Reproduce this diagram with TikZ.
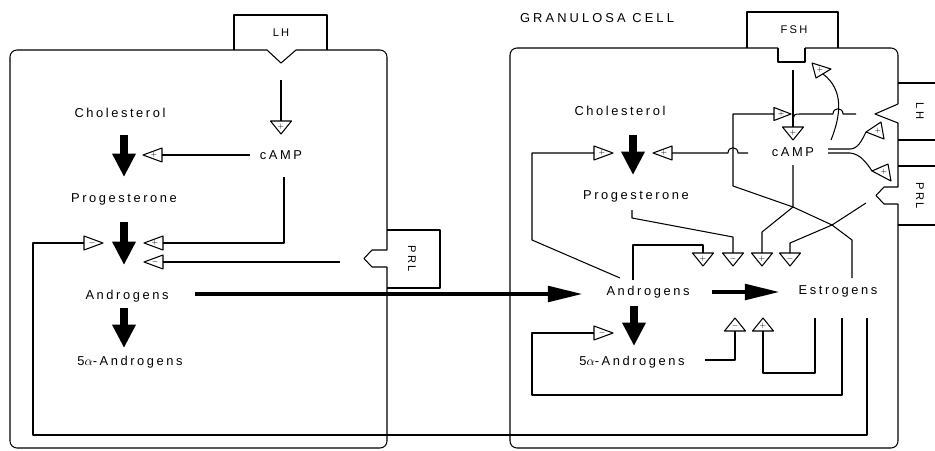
\documentclass[tikz,border=0pt]{standalone}
\usepackage{fontspec}
\setmainfont{Liberation Sans}[LetterSpace=20]
\newfontfamily\widefont{Liberation Sans}[LetterSpace=24]
\usetikzlibrary{arrows.meta}
\tikzset{
 thinln/.style={line width=0.9pt, line join=round},
 lbl/.style={font=\fontsize{11}{13}\selectfont, inner sep=0pt},
 hlbl/.style={font=\fontsize{9.5}{11}\selectfont, inner sep=0pt},
 sig/.style={font=\fontsize{6.5}{7}\selectfont, inner sep=0pt},
 bigarr/.style={line width=6pt, -{Triangle[length=20pt,width=19pt]}},
 longarr/.style={line width=4pt, -{Triangle[length=30pt,width=13pt]}},
}
% L W name x y angle sign
\newcommand\sgnbase[7]{%
 \begin{scope}[shift={(#4,#5)},rotate=#6]
  \draw[thinln] (0,0) coordinate (#3) -- (-#1,-#2/2) -- (-#1,#2/2) -- cycle;
  \coordinate (#3b) at (-#1,0);
  \node[sig] (#3s) at (-#1*0.58,0) {#7};
 \end{scope}}
\newcommand\sgnH[5]{\sgnbase{19}{14}{#1}{#2}{#3}{#4}{#5}}
\newcommand\sgnV[5]{\sgnbase{13}{21}{#1}{#2}{#3}{#4}{#5}}
\begin{document}
\begin{tikzpicture}[x=0.03cm,y=-0.03cm]
\useasboundingbox (0,0) rectangle (935,450);

% ---------------- left (theca) cell ----------------
\draw[thinln, rounded corners=6pt] (267,50) -- (10,50) -- (10,448) -- (387,448) -- (387,267);
\draw[thinln] (387,267) -- (372,267) -- (364,258.5) -- (372,250) -- (387,250);
\draw[thinln, rounded corners=6pt] (387,250) -- (387,50) -- (296,50);
\draw[thinln] (296,50) -- (281,63) -- (267,50);
\draw[thinln] (234,50) -- (234,15) -- (327,15) -- (327,50);
\node[hlbl] (lhL) at (281,33) {LH};
\draw[thinln] (387,230) -- (440,230) -- (440,288) -- (387,288);
\node[hlbl, rotate=-90] (prlL) at (412,259) {PRL};

\node[lbl] (cholL) at (120,113) {Cholesterol};
\node[lbl] (campL) at (281,155) {cAMP};
\node[lbl] (progL) at (124,199) {Progesterone};
\node[lbl] (andL) at (127,296) {Androgens};
\node[lbl] (aaL) at (130,362) {5$\alpha$-Androgens};

\coordinate (a1s) at (124,135); \coordinate (a1e) at (124,177);
\coordinate (a2s) at (124,222); \coordinate (a2e) at (124,265);
\coordinate (a3s) at (124,308); \coordinate (a3e) at (124,348);
\draw[bigarr] (a1s) -- (a1e);
\draw[bigarr] (a2s) -- (a2e);
\draw[bigarr] (a3s) -- (a3e);

\sgnV{tLH}{281}{134}{-90}{$+$}
\coordinate (lhLin) at (281,80);
\draw[thinln] (lhLin) -- (tLHb);
\sgnH{tC1}{143}{155}{180}{$+$}
\coordinate (campLw) at (250,155);
\draw[thinln] (campLw) -- (tC1b);
\sgnH{tC2}{144}{243}{180}{$+$}
\coordinate (campLs) at (284,177);
\draw[thinln] (campLs) |- (tC2b);
\sgnH{tP}{144}{262}{180}{$-$}
\coordinate (prlLin) at (340,262);
\draw[thinln] (prlLin) -- (tPb);
\sgnH{tE1}{103}{243}{0}{$-$}

% long androgen arrow
\coordinate (andLe) at (195,294); \coordinate (andRw) at (583,294);
\draw[longarr] (andLe) -- (andRw);

% ---------------- right (granulosa) cell ----------------
\node[lbl, font=\widefont\fontsize{11}{13}\selectfont] (gran) at (597,18) {GRANULOSA CELL};
\draw[thinln, rounded corners=6pt] (778,48) -- (510,48) -- (510,448) -- (898,448) -- (898,204);
\draw[thinln] (898,204) -- (884,204) -- (876,195.5) -- (884,187) -- (898,187);
\draw[thinln] (898,187) -- (898,123) -- (875,114) -- (898,104);
\draw[thinln, rounded corners=6pt] (898,104) -- (898,48) -- (805,48);
\draw[thinln] (805,48) -- (805,62) -- (778,62) -- (778,48);
\draw[thinln] (747,48) -- (747,12) -- (838,12) -- (838,48);
\node[hlbl] (fsh) at (794,30) {FSH};
\draw[thinln] (898,83) -- (935,83);
\draw[thinln] (898,140) -- (935,140);
\node[hlbl, rotate=-90] (lhR) at (920,111) {LH};
\draw[thinln] (898,166) -- (935,166);
\draw[thinln] (898,225) -- (935,225);
\node[hlbl, rotate=-90] (prlR) at (920,196) {PRL};

\node[lbl] (cholR) at (620,111) {Cholesterol};
\node[lbl] (campR) at (793,152) {cAMP};
\node[lbl] (progR) at (636,196) {Progesterone};
\node[lbl] (andR) at (648,292) {Androgens};
\node[lbl] (estR) at (838,291) {Estrogens};
\node[lbl] (aaR) at (632,362) {5$\alpha$-Androgens};

\coordinate (b1s) at (633,135); \coordinate (b1e) at (633,175);
\coordinate (b2s) at (634,306); \coordinate (b2e) at (634,346);
\draw[bigarr] (b1s) -- (b1e);
\draw[bigarr] (b2s) -- (b2e);
\coordinate (b3s) at (712,292); \coordinate (b3e) at (780,292);
\draw[longarr] (b3s) -- (b3e);

% androgens -> (+) cholesterol step
\sgnH{tR1}{613}{153}{0}{$+$}
\coordinate (andRnw) at (620,278);
\draw[thinln] (andRnw) -- (532,240) -- (532,153) -- (tR1b);
% cAMP -> (+) cholesterol step
\sgnH{tR2}{653}{153}{180}{$+$}
\coordinate (campRw) at (748,153);
\draw[thinln] (campRw) -- (738,153) .. controls (738,146) and (728,146) .. (728,153) -- (tR2b);
% FSH
\sgnV{tF}{793}{140}{-90}{$+$}
\coordinate (fshIn) at (793,70);
\draw[thinln] (fshIn) -- (tFb);
% LH receptor line
\coordinate (lhRin) at (856,114);
\draw[thinln] (lhRin) -- (843,114) .. controls (843,107) and (833,107) .. (833,114) -- (800,114) .. controls (794,114) .. (793,121);
\sgnbase{17}{13}{tX}{791}{114}{0}{$+$}

% junctions
\coordinate (J1) at (793,207);
\coordinate (J2) at (832,225);
\coordinate (estRn) at (852,278);
\draw[thinln] (estRn) -- (852,240) -- (J2) -- (J1) -- (733,186) -- (733,114) -- (tXb);

\sgnV{tB4}{703}{266}{-90}{$+$}
\sgnV{tB3}{733}{266}{-90}{$-$}
\sgnV{tB1}{762}{266}{-90}{$+$}
\sgnV{tB2}{790}{266}{-90}{$-$}
\coordinate (campRs) at (793,165);
\draw[thinln] (campRs) -- (J1) -- (762,232) -- (tB1b);
\coordinate (prlRin) at (866,203);
\draw[thinln] (prlRin) -- (J2) -- (790,243) -- (tB2b);
\coordinate (progRs) at (632,210);
\draw[thinln] (progRs) -- (632,218) -- (733,237) -- (tB3b);
\coordinate (andRn) at (633,280);
\draw[thinln] (andRn) -- (633,245) -- (703,245) -- (tB4b);

% cAMP curved actions
\coordinate (campRne) at (831,140);
\draw[thinln] (campRne) .. controls (841,115) and (844,90) .. (823,74);
\draw[thinln] (812,63) -- (831,69) -- (816,78) -- cycle;
\node[sig] (tTs) at (820,70) {$+$};
\coordinate (campRe1) at (828,149); \coordinate (campRe2) at (828,153);
\draw[thinln] (campRe1) -- (850,149) .. controls (858,149) and (862,140) .. (866,132);
\draw[thinln] (campRe2) -- (850,153) .. controls (860,154) and (866,162) .. (872,171);
\draw[thinln] (866,132) -- (881,122) -- (884,139) -- cycle;
\node[sig] (tUs) at (878,131) {$+$};
\draw[thinln] (872,171) -- (888,164) -- (891,181) -- cycle;
\node[sig] (tLs) at (884,172) {$+$};

% bottom feedbacks
\sgnV{tU1}{735}{318}{90}{$-$}
\sgnV{tU2}{763}{318}{90}{$+$}
\coordinate (aaRe) at (705,360);
\draw[thinln] (aaRe) -| (tU1b);
\coordinate (estRs1) at (815,318);
\draw[thinln] (estRs1) -- (815,373) -| (tU2b);
\sgnH{tR3}{613}{333}{0}{$-$}
\coordinate (estRs2) at (842,318);
\draw[thinln] (estRs2) -- (842,395) -- (532,395) |- (tR3b);
\coordinate (estRs3) at (867,318);
\draw[thinln] (estRs3) -- (867,435) -- (33,435) |- (tE1b);
\end{tikzpicture}
\end{document}
